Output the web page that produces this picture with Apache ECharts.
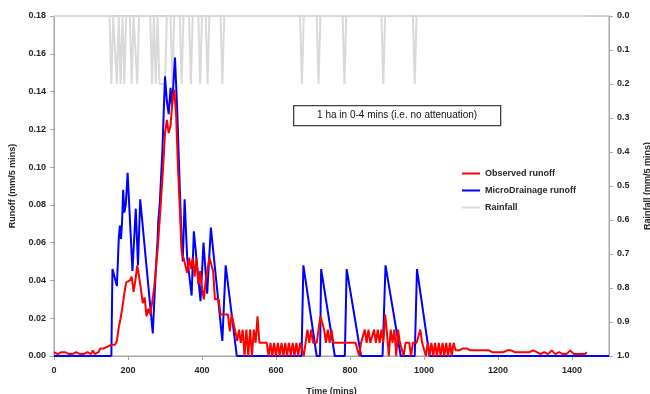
<!DOCTYPE html>
<html lang="en">
<head>
    <meta charset="UTF-8">
    <title>Runoff</title>
    <script src="https://cdn.jsdelivr.net/npm/echarts@6/dist/echarts.min.js"></script>
</head>
<style>
    body{ margin: 0; background: #fff; }
    #main{ width: 650px; height: 394px; }
</style>
<body>
<div id="main"></div>
<script>
    // observed runoff, one value every 5 mins from t=0 (one row = 1 hour)
    var obsStep = 5;
    var observed = [
        .002,.002,.001,.002,.002,.001,.002,.001,.001,.002,.001,.001,
        .002,.001,.001,.002,.001,.001,.002,.001,.001,.003,.001,.001,
        .002,.004,.003,.004,.003,.005,.004,.006,.006,.006,.008,.015,
        .020,.026,.033,.039,.040,.040,.042,.034,.040,.048,.042,.035,
        .028,.031,.021,.025,.022,.028,.035,.045,.056,.070,.085,.100,
        .118,.125,.118,.122,.135,.141,.128,.100,.078,.055,.052,.052,
        .044,.052,.046,.052,.042,.052,.038,.045,.036,.030,.040,.046,
        .052,.053,.045,.030,.030,.030,.022,.022,.022,.022,.022,.013,
        .022,.022,.013,.008,.014,.007,.014,0,.014,0,.014,0,
        .014,.007,.021,.007,.007,.007,.007,.007,0,.007,0,.007,
        0,.007,0,.007,0,.007,0,.007,0,.007,0,.007,
        0,.007,.007,0,.007,.014,.007,.014,.007,.007,.007,.014,
        .021,.022,.014,.007,.014,.007,.014,.007,.007,.007,.007,.007,
        .007,.007,.007,.007,.007,.007,.007,.007,.007,0,.007,.007,
        .014,.007,.014,.007,.007,.014,.007,.014,.007,.014,.007,.022,
        .012,0,.014,.007,.014,0,.014,.007,.007,0,.007,.007,
        .007,0,.007,.007,.007,.007,.014,.007,.007,0,.007,0,
        .007,0,.007,0,.007,0,.007,0,.007,0,.007,0,
        .007,.003,.004,.003,.004,.004,.003,.004,.003,.003,.004,.003,
        .003,.003,.004,.003,.003,.003,.002,.003,.003,.002,.003,.002,
        .003,.002,.003,.002,.002,.003,.002,.003,.002,.002,.003,.002,
        .002,.002,.003,.002,.002,.002,.002,.003,.002,.002,.002,.001,
        .002,.002,.002,.001,.002,.003,.002,.001,.002,.002,.003,.001,
        .002,.001,.002,.003,.002,.001,.002,.001,.002,.001,.002,.001,
        .002
    ];

    // MicroDrainage runoff [time, value]
    var microDrainage = [
        [0,0],[155,0],[158,0.046],[170,0.037],[175,0.062],[178,0.069],[181,0.062],[184,0.071],
        [187,0.088],[190,0.076],[194,0.080],[199,0.097],[212,0.045],[221,0.078],[227,0.048],
        [233,0.083],[267,0.012],[275,0.045],[280,0.062],[282,0.072],[286,0.081],[293,0.109],
        [300,0.148],[305,0.135],[310,0.128],[315,0.142],[319,0.132],[327,0.158],[333,0.130],
        [345,0.060],[348,0.050],[353,0.083],[360,0.052],[372,0.032],[378,0.066],[396,0.029],
        [404,0.060],[414,0.033],[424,0.068],[455,0.008],[464,0.048],[494,0],
        [669,0],[674,0.048],[710,0],[719,0],[722,0.046],[759,0],
        [786,0],[791,0.046],[830,0],[888,0],[896,0.048],[937,0],
        [975,0],[981,0.046],[1015,0],[1500,0]
    ];

    // rainfall [time, mm/5 mins]
    var rainfall = [
        [0,0],[150,0],[155,0.2],[160,0],[165,0],[170,0.2],[175,0],[180,0.2],[185,0],[190,0.2],[195,0],
        [205,0],[210,0.2],[215,0],[220,0],[225,0.2],[230,0],
        [260,0],[265,0.2],[270,0],[275,0.2],[280,0],[285,0.2],[300,0.2],[305,0],
        [315,0],[320,0.2],[325,0],[340,0],[345,0.2],[350,0],[365,0],[370,0.2],[375,0],
        [390,0],[395,0.2],[400,0],[410,0],[415,0.2],[420,0],[450,0],[455,0.2],[460,0],
        [665,0],[670,0.2],[675,0],[710,0],[715,0.2],[720,0],[780,0],[785,0.2],[790,0],
        [885,0],[890,0.2],[895,0],[970,0],[975,0.2],[980,0],[1440,0]
    ];

    var xTicks = { min: 0, max: 1500, interval: 200 };
    var runoffTicks = { min: 0, max: 0.18, interval: 0.02 };
    var rainTicks = { min: 0, max: 1, interval: 0.1 };

    var obsData = [];
    for (var i = 0; i < observed.length; i++) {
        obsData.push([i * obsStep, observed[i]]);
    }

    var labelFont = { fontFamily: 'Liberation Sans', fontSize: 9, fontWeight: 'bold', color: '#262626' };
    var axisGray = { lineStyle: { color: '#a6a6a6', width: 1 } };

    var myChart = echarts.init(document.getElementById('main'));
    var option = {
        animation: false,
        backgroundColor: '#fff',
        grid: {
            left: 54, right: 41, top: 16, bottom: 38,
            outerBoundsMode: 'none', containLabel: false,
            show: true, borderColor: '#a6a6a6', borderWidth: 1
        },
        legend: {
            orient: 'vertical',
            left: 457,
            top: 160,
            icon: 'rect',
            itemWidth: 18,
            itemHeight: 2,
            itemGap: 0,
            textStyle: { fontFamily: 'Liberation Sans', fontSize: 9, fontWeight: 'bold', color: '#262626', lineHeight: 17 },
            data: ['Observed runoff', 'MicroDrainage runoff', 'Rainfall']
        },
        xAxis: {
            type: 'value',
            min: xTicks.min, max: xTicks.max, interval: xTicks.interval,
            name: 'Time (mins)',
            nameLocation: 'middle',
            nameGap: 31,
            nameTextStyle: labelFont,
            axisLine: axisGray,
            axisTick: { show: true, length: 4, lineStyle: { color: '#a6a6a6' } },
            axisLabel: Object.assign({
                margin: 10,
                showMaxLabel: false,
                formatter: function (v) { return v % 200 === 0 ? String(v) : ''; }
            }, labelFont),
            splitLine: { show: false }
        },
        yAxis: [{
            type: 'value',
            min: runoffTicks.min, max: runoffTicks.max, interval: runoffTicks.interval,
            name: 'Runoff (mm/5 mins)',
            nameLocation: 'middle',
            nameRotate: 90,
            nameGap: 37,
            nameTextStyle: labelFont,
            axisLine: Object.assign({ show: true }, axisGray),
            axisTick: { show: true, length: 4, lineStyle: { color: '#a6a6a6' } },
            axisLabel: Object.assign({ margin: 8, formatter: function (v) { return v.toFixed(2); } }, labelFont),
            splitLine: { show: false }
        }, {
            type: 'value',
            position: 'right',
            inverse: true,
            min: rainTicks.min, max: rainTicks.max, interval: rainTicks.interval,
            name: 'Rainfall (mm/5 mins)',
            nameLocation: 'middle',
            nameRotate: 90,
            nameGap: 34,
            nameTextStyle: labelFont,
            axisLine: Object.assign({ show: true }, axisGray),
            axisTick: { show: true, length: 4, lineStyle: { color: '#a6a6a6' } },
            axisLabel: Object.assign({ margin: 8, formatter: function (v) { return v.toFixed(1); } }, labelFont),
            splitLine: { show: false }
        }],
        graphic: [{
            type: 'group',
            left: 293,
            top: 105,
            children: [{
                type: 'rect',
                shape: { x: 0, y: 0, width: 207, height: 20 },
                style: { fill: '#fff', stroke: '#404040', lineWidth: 1.3 }
            }, {
                type: 'text',
                x: 103.5,
                y: 10,
                style: {
                    text: '1 ha in 0-4 mins (i.e. no attenuation)',
                    fontFamily: 'Liberation Sans', fontSize: 10, fill: '#111',
                    align: 'center', verticalAlign: 'middle'
                }
            }]
        }],
        series: [{
            name: 'Rainfall',
            type: 'line',
            yAxisIndex: 1,
            symbol: 'none',
            data: rainfall,
            lineStyle: { color: '#d9d9d9', width: 2 },
            itemStyle: { color: '#d9d9d9' }
        }, {
            name: 'MicroDrainage runoff',
            type: 'line',
            symbol: 'none',
            data: microDrainage,
            lineStyle: { color: '#0000ff', width: 2 },
            itemStyle: { color: '#0000ff' }
        }, {
            name: 'Observed runoff',
            type: 'line',
            symbol: 'none',
            data: obsData,
            lineStyle: { color: '#ff0000', width: 2 },
            itemStyle: { color: '#ff0000' }
        }]
    };
    myChart.setOption(option);
</script>
</body>
</html>
